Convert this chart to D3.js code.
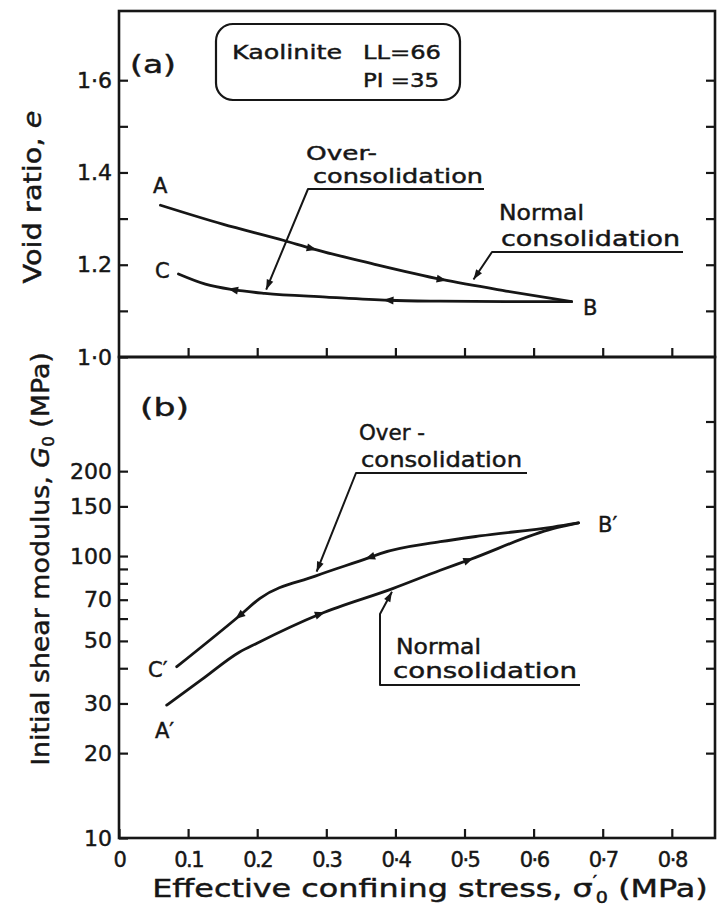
<!DOCTYPE html>
<html>
<head>
<meta charset="utf-8">
<script src="https://cdn.jsdelivr.net/npm/d3@7"></script>
<style>
  body { margin: 0; background: #fff; }
  text { font-family: "DejaVu Sans", "Noto Sans", sans-serif; fill: #161616; stroke: #161616; stroke-width: 0.45; }
</style>
</head>
<body>
<svg id="chart" width="721" height="909"></svg>
<script>
// ---- data -------------------------------------------------------------
// (a) void ratio against effective confining stress (MPa)
const stressNormalA = [0.060, 0.150, 0.240, 0.279, 0.370, 0.467, 0.560, 0.655];
const voidNormalA   = [1.329, 1.288, 1.252, 1.235, 1.201, 1.168, 1.143, 1.120];
const stressOverA   = [0.086, 0.125, 0.165, 0.211, 0.300, 0.390, 0.465, 0.560, 0.655];
const voidOverA     = [1.180, 1.158, 1.146, 1.138, 1.130, 1.123, 1.121, 1.120, 1.120];

// (b) initial shear modulus G0 (MPa) against effective confining stress (MPa)
const stressNormalB  = [0.069, 0.120, 0.174, 0.199, 0.291, 0.397, 0.465, 0.506, 0.628, 0.665];
const modulusNormalB = [29.6, 36.5, 45.6, 49.0, 62.3, 76.8, 89.0, 96.8, 125, 131];
const stressOverB    = [0.0835, 0.174, 0.204, 0.284, 0.363, 0.378, 0.465, 0.522, 0.628, 0.665];
const modulusOverB   = [40.5, 61.3, 70.8, 84.9, 98.9, 102, 112.4, 117.8, 126.7, 131];

// stresses at which direction arrows sit on each path
const arrowsNormalA = [0.279, 0.467];
const arrowsOverA   = [0.165, 0.390];
const arrowsNormalB = [0.291, 0.506];
const arrowsOverB   = [0.174, 0.363];

// axis ticks
const stressTickValues  = [0, 0.1, 0.2, 0.3, 0.4, 0.5, 0.6, 0.7, 0.8];
const stressTickText    = ["0", "0.1", "0.2", "0.3", "0·4", "0·5", "0·6", "0·7", "0·8"];
const voidTickValues    = [1.0, 1.1, 1.2, 1.3, 1.4, 1.5, 1.6];
const voidTickText      = ["1·0", "", "1.2", "", "1.4", "", "1·6"];
const modulusTickValues = [10, 20, 30, 40, 50, 60, 70, 80, 90, 100, 150, 200];
const modulusTickText   = ["10", "20", "30", "", "50", "", "70", "", "", "100", "150", "200"];
const modulusRightTicks = [20, 30, 40, 50, 60, 70, 80, 90, 100, 150, 200, 300];

// ---- layout -----------------------------------------------------------
const INK = "#161616";
const svg = d3.select("#chart");
svg.append("rect").attr("width", 721).attr("height", 909).attr("fill", "#fff");

const x  = d3.scaleLinear().domain([0, 0.8625]).range([119, 715]);
const ye = d3.scaleLinear().domain([1.0, 1.75]).range([357, 11]);
const yg = d3.scaleLog().domain([10, 508]).range([838, 357]);

// ---- axes -------------------------------------------------------------
function finishAxis(g, size) {
  g.select(".domain").remove();
  g.attr("font-family", null).attr("font-size", size);
  g.selectAll(".tick line").attr("stroke", INK).attr("stroke-width", 2.2);
  g.selectAll(".tick text").attr("fill", INK);
}
const labelFrom = (vals, txt) => d => txt[vals.findIndex(v => Math.abs(v - d) < 1e-9)] || "";

svg.append("g").attr("transform", `translate(${x(0)},0)`)
  .call(d3.axisLeft(ye).tickValues(voidTickValues).tickSize(-9).tickPadding(7)
    .tickFormat(labelFrom(voidTickValues, voidTickText)))
  .call(g => finishAxis(g, 22));
svg.append("g").attr("transform", `translate(${x.range()[1]},0)`)
  .call(d3.axisRight(ye).tickValues(voidTickValues.slice(1)).tickSize(-9).tickFormat(""))
  .call(g => finishAxis(g, 22));
svg.append("g").attr("transform", `translate(0,${ye(1.0)})`)
  .call(d3.axisBottom(x).tickValues(stressTickValues.slice(1)).tickSize(-9).tickFormat(""))
  .call(g => finishAxis(g, 22));

svg.append("g").attr("transform", `translate(${x(0)},0)`)
  .call(d3.axisLeft(yg).tickValues(modulusTickValues).tickSize(-9).tickPadding(7)
    .tickFormat(labelFrom(modulusTickValues, modulusTickText)))
  .call(g => finishAxis(g, 22));
svg.append("g").attr("transform", `translate(${x.range()[1]},0)`)
  .call(d3.axisRight(yg).tickValues(modulusRightTicks).tickSize(-9).tickFormat(""))
  .call(g => finishAxis(g, 22));
svg.append("g").attr("transform", `translate(0,${yg(10)})`)
  .call(d3.axisBottom(x).tickValues(stressTickValues).tickSize(-9).tickPadding(14)
    .tickFormat(labelFrom(stressTickValues, stressTickText)))
  .call(g => finishAxis(g, 21))
  .call(g => g.selectAll(".tick text").attr("letter-spacing", -1.5));

// panel frames
const frame = svg.append("g").attr("fill", "none").attr("stroke", INK).attr("stroke-width", 2.6);
frame.append("rect").attr("x", x(0)).attr("y", ye(1.75))
  .attr("width", x.range()[1] - x(0)).attr("height", ye(1.0) - ye(1.75));
frame.append("rect").attr("x", x(0)).attr("y", yg(yg.domain()[1]))
  .attr("width", x.range()[1] - x(0)).attr("height", yg(10) - yg(yg.domain()[1]));

// axis titles: the lettering is wide, so each title is stretched to its run length
function stretchTitle(t, cx, cy, rot, length) {
  const w = t.node().getComputedTextLength();
  t.attr("transform", `translate(${cx},${cy}) rotate(${rot}) scale(${length / w},1)`);
}
const eTitle = svg.append("text").attr("text-anchor", "middle").attr("font-size", 24);
eTitle.append("tspan").text("Void ratio, ");
eTitle.append("tspan").attr("font-style", "italic").text("e");
stretchTitle(eTitle, 41, 197, -90, 173);

const gTitle = svg.append("text").attr("text-anchor", "middle").attr("font-size", 24);
gTitle.append("tspan").text("Initial shear modulus, ");
gTitle.append("tspan").attr("font-style", "italic").text("G");
gTitle.append("tspan").attr("font-size", 15).attr("dy", 5).text("0");
gTitle.append("tspan").attr("dy", -5).text(" (MPa)");
stretchTitle(gTitle, 49, 559, -90, 414);

const xTitle = svg.append("text").attr("text-anchor", "middle").attr("font-size", 25);
xTitle.append("tspan").text("Effective confining stress, σ");
xTitle.append("tspan").attr("font-size", 15).attr("dy", -10).text("′");
xTitle.append("tspan").attr("font-size", 15).attr("dx", -1).attr("dy", 16).text("0");
xTitle.append("tspan").attr("dy", -6).text(" (MPa)");
stretchTitle(xTitle, 430, 897, 0, 557);

// ---- curves -----------------------------------------------------------
function interp(xs, ys, v, logY) {
  let i = 1;
  while (i < xs.length - 1 && xs[i] < v) i++;
  const t = (v - xs[i - 1]) / (xs[i] - xs[i - 1]);
  if (logY) return Math.pow(10, Math.log10(ys[i - 1]) + t * (Math.log10(ys[i]) - Math.log10(ys[i - 1])));
  return ys[i - 1] + t * (ys[i] - ys[i - 1]);
}

function drawPath(xs, ys, yScale, arrows, dir) {
  const logY = yScale === yg;
  const pts = xs.map((d, i) => [d, ys[i]]);
  svg.append("path").datum(pts)
    .attr("fill", "none").attr("stroke", INK).attr("stroke-width", 2.8)
    .attr("stroke-linejoin", "round").attr("stroke-linecap", "round")
    .attr("d", d3.line().x(d => x(d[0])).y(d => yScale(d[1])).curve(d3.curveMonotoneX));
  arrows.forEach(v => {
    const px = x(v), py = yScale(interp(xs, ys, v, logY));
    const v2 = v + dir * 0.01;
    const ang = Math.atan2(yScale(interp(xs, ys, v2, logY)) - py, x(v2) - px) * 180 / Math.PI;
    svg.append("path").attr("d", "M5,0 L-5,-4 L-5,4 Z").attr("fill", INK)
      .attr("transform", `translate(${px},${py}) rotate(${ang})`);
  });
}

drawPath(stressNormalA, voidNormalA, ye, arrowsNormalA, 1);
drawPath(stressOverA, voidOverA, ye, arrowsOverA, -1);
drawPath(stressNormalB, modulusNormalB, yg, arrowsNormalB, 1);
drawPath(stressOverB, modulusOverB, yg, arrowsOverB, -1);

// ---- annotations ------------------------------------------------------
function label(txt, px, py, size, len) {
  const t = svg.append("text").attr("x", px).attr("y", py).attr("font-size", size).text(txt);
  if (len) t.attr("textLength", len).attr("lengthAdjust", "spacingAndGlyphs");
  return t;
}
function leader(points, tip) {
  const all = points.concat([tip]);
  svg.append("path").attr("d", d3.line()(all)).attr("fill", "none")
    .attr("stroke", INK).attr("stroke-width", 2).attr("stroke-linejoin", "round");
  const a = all[all.length - 2];
  const ang = Math.atan2(tip[1] - a[1], tip[0] - a[0]) * 180 / Math.PI;
  svg.append("path").attr("d", "M0,0 L-10,-3.5 L-10,3.5 Z").attr("fill", INK)
    .attr("transform", `translate(${tip[0]},${tip[1]}) rotate(${ang})`);
}

// panel (a)
label("(a)", 130, 73, 25, 46);
svg.append("rect").attr("x", 216).attr("y", 24).attr("width", 244).attr("height", 76)
  .attr("rx", 17).attr("fill", "none").attr("stroke", INK).attr("stroke-width", 2.2);
label("Kaolinite", 232, 59, 20, 110);
label("LL=66", 363, 59, 20, 78);
label("PI =35", 363, 87, 20, 76);

label("Over-", 306, 160, 20, 71);
label("consolidation", 313, 183, 20, 170);
leader([[484, 189], [308, 189]], [x(0.213), ye(1.146)]);

label("Normal", 499, 220, 21, 85);
label("consolidation", 501, 246, 21, 179);
leader([[683, 252], [492, 252]], [x(0.513), ye(1.168)]);

label("A", 153, 193, 21);
label("C", 155, 278, 21);
label("B", 583, 315, 21);

// panel (b)
label("(b)", 140, 416, 25, 49);
label("Over -", 359, 440, 21, 66);
label("consolidation", 361, 467, 21, 161);
leader([[527, 473], [356, 473]], [x(0.286), yg(88)]);

label("Normal", 396, 654, 21, 85);
label("consolidation", 393, 678, 21, 184);
leader([[580, 685], [380, 685], [380, 614]], [x(0.395), yg(74.7)]);

label("B′", 598, 532, 21);
label("C′", 148, 677, 21);
label("A′", 155, 738, 21);
</script>
</body>
</html>
